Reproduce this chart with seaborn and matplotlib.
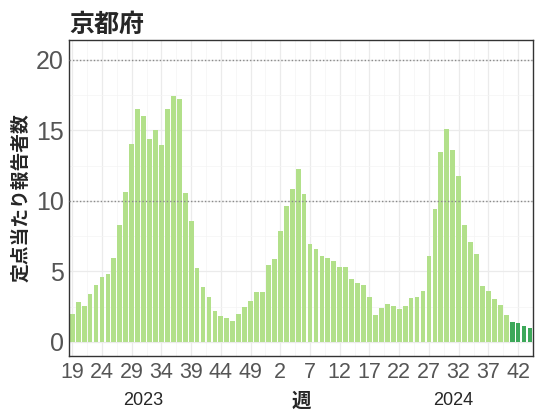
import matplotlib
matplotlib.use("Agg")
import matplotlib.pyplot as plt
from matplotlib.ticker import FixedLocator, MultipleLocator
import pandas as pd
import seaborn as sns

# ─── DATA ─────────────────────────────────────────────────────────────────────
weeks_2023 = list(range(19, 53))
weeks_2024 = list(range(1, 45))

values_2023 = [1.96, 2.86, 2.53, 3.43, 4.05, 4.59, 4.83, 5.94, 8.26, 10.63,
               14.01, 16.50, 16.02, 14.39, 15.05, 13.99, 16.50, 17.44, 17.20, 10.56,
               8.59, 5.23, 3.86, 3.15, 2.18, 1.85, 1.66, 1.51, 1.96, 2.49,
               2.93, 3.53, 3.53, 5.42]
values_2024 = [5.85, 7.86, 9.66, 10.84, 12.26, 10.49, 6.94, 6.56, 6.11, 5.94,
               5.70, 5.33, 5.33, 4.43, 4.21, 4.02, 3.20, 1.94, 2.41, 2.67,
               2.51, 2.34, 2.58, 3.10, 3.20, 3.62, 6.06, 9.42, 13.49, 15.12,
               13.59, 11.76, 8.26, 7.10, 6.25, 3.98, 3.60, 3.01, 2.65, 1.94,
               1.40, 1.33, 1.11, 1.02]
# the last four weeks are highlighted
n_recent = 4

years = ['2023', '2024']
title = '京都府'

df = pd.DataFrame({
    'week': weeks_2023 + weeks_2024,
    'value': values_2023 + values_2024,
})
df['pos'] = range(len(df))
df['period'] = ['past'] * (len(df) - n_recent) + ['recent'] * n_recent

# ─── PLOT ─────────────────────────────────────────────────────────────────────
sns.set_style('white')
plt.rcParams['font.family'] = ['Liberation Sans', 'Noto Sans CJK JP']

fig = plt.figure(figsize=(5.35, 4.12), dpi=100)
ax = fig.add_axes([0.1295, 0.1359, 0.8667, 0.767])

sns.barplot(data=df, x='pos', y='value', hue='period',
            palette={'past': '#b2e08a', 'recent': '#3da85a'},
            saturation=1, dodge=False, legend=False, width=0.8,
            edgecolor='none', ax=ax, zorder=2)

ax.set_xlim(-0.5, 77.5)
ax.set_ylim(-1.0, 21.4)

tick_pos = list(range(0, len(df) - 1, 5))
ax.xaxis.set_major_locator(FixedLocator(tick_pos))
ax.set_xticklabels([str(df['week'][p]) for p in tick_pos])
ax.xaxis.set_minor_locator(FixedLocator([p + 2.5 for p in tick_pos]))
ax.set_yticks([0, 5, 10, 15, 20])
ax.yaxis.set_minor_locator(MultipleLocator(2.5))

ax.set_axisbelow(True)
ax.grid(which='major', color='#ebebeb', linewidth=0.9)
ax.grid(which='minor', color='#f4f4f4', linewidth=0.5)
for yv in (10, 20):
    ax.axhline(yv, color='#8a8a8a', linestyle=(0, (1, 1.5)), linewidth=1.0, zorder=3)

for s in ax.spines.values():
    s.set_color('#333333')
    s.set_linewidth(1.0)

ax.tick_params(axis='x', which='major', labelsize=15.5, colors='#555555',
               length=3, width=0.8, pad=1)
ax.tick_params(axis='y', which='major', labelsize=18, colors='#555555',
               length=3, width=0.8, pad=1)
ax.tick_params(which='minor', length=0)
for lab in ax.get_xticklabels() + ax.get_yticklabels():
    lab.set_color('#555555')

ax.set_xlabel('週', fontsize=14, fontweight='bold', labelpad=7)
ax.set_ylabel('定点当たり報告者数', fontsize=13.5, fontweight='bold', labelpad=4)
ax.set_title(title, fontsize=18, fontweight='bold', loc='left', pad=6, x=0.0)

# year labels below the week ticks
ax.text(12, -0.115, years[0], transform=ax.get_xaxis_transform(),
        ha='center', va='top', fontsize=13)
ax.text(64, -0.115, years[1], transform=ax.get_xaxis_transform(),
        ha='center', va='top', fontsize=13)

fig.savefig('out.png', dpi=100)
